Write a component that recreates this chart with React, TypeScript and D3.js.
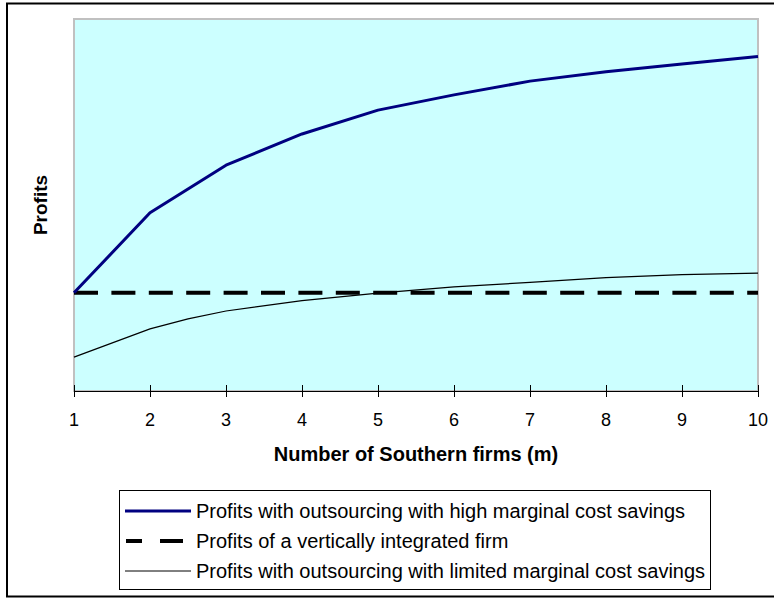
import React from "react";
import * as d3 from "d3";

const xTicks = [1, 2, 3, 4, 5, 6, 7, 8, 9, 10];

const highX = [1, 2, 3, 4, 5, 6, 7, 8, 9, 10];
const highProfits = [26.4, 47.9, 60.7, 69.1, 75.5, 79.6, 83.3, 85.8, 87.9, 89.9];

const integratedX = [1, 10];
const integratedProfits = [26.4, 26.4];

const limitedX = [1, 2, 2.5, 3, 4, 5, 6, 7, 8, 9, 10];
const limitedProfits = [9.1, 16.7, 19.4, 21.5, 24.3, 26.3, 28.0, 29.2, 30.5, 31.3, 31.7];

const legendLabels = [
  "Profits with outsourcing with high marginal cost savings",
  "Profits of a vertically integrated firm",
  "Profits with outsourcing with limited marginal cost savings",
];

const xAxisTitle = "Number of Southern firms (m)";
const yAxisTitle = "Profits";

const W = 774;
const H = 599;
const plot = { left: 74, right: 758, top: 19, bottom: 391 };
const FONT = "'Liberation Sans', Arial, sans-serif";

export default function App() {
  const x = d3.scaleLinear().domain([1, 10]).range([plot.left, plot.right]);
  const y = d3.scaleLinear().domain([0, 100]).range([plot.bottom, plot.top]);

  const line = d3
    .line<[number, number]>()
    .x((d) => x(d[0]))
    .y((d) => y(d[1]));

  const highPath = line(highX.map((v, i) => [v, highProfits[i]]) as [number, number][]) || "";
  const intPath = line(integratedX.map((v, i) => [v, integratedProfits[i]]) as [number, number][]) || "";
  const limPath = line(limitedX.map((v, i) => [v, limitedProfits[i]]) as [number, number][]) || "";

  const legendRowsY = [511, 541, 571];

  return (
    <svg
      width={W}
      height={H}
      style={{ position: "absolute", left: 0, top: 0, background: "#fff" }}
      fontFamily={FONT}
    >
      {/* outer frame */}
      <rect x={7} y={3.5} width={780} height={593} fill="#fff" stroke="#000" strokeWidth={2} />

      {/* plot area */}
      <rect
        x={plot.left}
        y={plot.top}
        width={plot.right - plot.left}
        height={plot.bottom - plot.top}
        fill="#CCFFFF"
        stroke="#C0C0C0"
        strokeWidth={2}
      />

      {/* x axis */}
      <line x1={plot.left} x2={plot.right} y1={391.5} y2={391.5} stroke="#000" strokeWidth={1} />
      {xTicks.map((t) => (
        <g key={t}>
          <line
            x1={Math.round(x(t)) + 0.5}
            x2={Math.round(x(t)) + 0.5}
            y1={385}
            y2={397}
            stroke="#000"
            strokeWidth={1}
          />
          <text x={x(t)} y={426} textAnchor="middle" fontSize={18} fill="#000">
            {t}
          </text>
        </g>
      ))}

      {/* series */}
      <path d={limPath} fill="none" stroke="#000" strokeWidth={1.2} />
      <path d={intPath} fill="none" stroke="#000" strokeWidth={4} strokeDasharray="24 13.4" />
      <path d={highPath} fill="none" stroke="#000080" strokeWidth={3} strokeLinejoin="round" />

      {/* axis titles */}
      <text
        x={(plot.left + plot.right) / 2}
        y={461}
        textAnchor="middle"
        fontSize={20}
        fontWeight="bold"
        fill="#000"
      >
        {xAxisTitle}
      </text>
      <text
        transform={`translate(47, ${(plot.top + plot.bottom) / 2}) rotate(-90)`}
        textAnchor="middle"
        fontSize={19}
        fontWeight="bold"
        fill="#000"
      >
        {yAxisTitle}
      </text>

      {/* legend */}
      <rect x={119.5} y={490.5} width={591} height={99} fill="#fff" stroke="#000" strokeWidth={1} />
      <line x1={125} x2={191} y1={legendRowsY[0]} y2={legendRowsY[0]} stroke="#000080" strokeWidth={3} />
      <line
        x1={126}
        x2={183}
        y1={legendRowsY[1]}
        y2={legendRowsY[1]}
        stroke="#000"
        strokeWidth={4}
        strokeDasharray="16 18 23 99"
      />
      <line x1={125} x2={191} y1={legendRowsY[2]} y2={legendRowsY[2]} stroke="#000" strokeWidth={1} />
      {legendLabels.map((l, i) => (
        <text key={l} x={196} y={legendRowsY[i] + 7} fontSize={20} fill="#000">
          {l}
        </text>
      ))}
    </svg>
  );
}
